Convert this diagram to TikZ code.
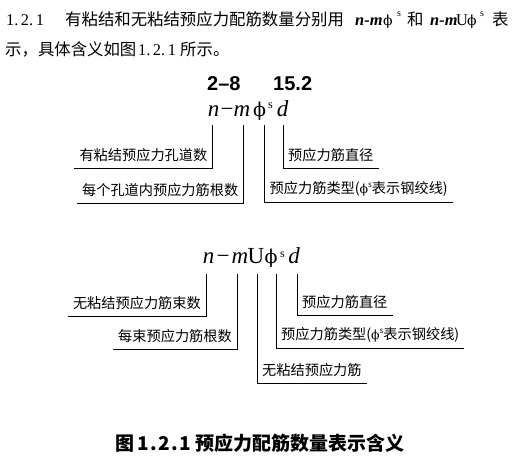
\documentclass[tikz,border=0pt]{standalone}
\usepackage{fontspec}
\setmainfont{Liberation Serif}
\newfontfamily\cjk{Noto Sans CJK SC}
\newfontfamily\lsans{Liberation Sans}
\newfontfamily\phifont{DejaVu Serif}
\newcommand\myphi{{\phifont ϕ}}
\newcommand\labphi{{\phifont\fontsize{12.5}{14}\selectfont ϕ}\raisebox{0.45em}{\fontsize{8}{9}\selectfont s}}
\begin{document}
\begin{tikzpicture}[x=1pt,y=-1pt,
  every node/.style={inner sep=0pt},
  hc/.style={anchor=base west,font=\cjk\fontsize{16.4}{18}\selectfont},
  hs/.style={anchor=base west,font=\fontsize{16.4}{18}\selectfont},
  hsup/.style={anchor=base west,font=\fontsize{10}{11}\selectfont},
  num/.style={anchor=base west,font=\lsans\bfseries\fontsize{20}{22}\selectfont},
  gl/.style={anchor=base,font=\fontsize{23}{26}\selectfont\itshape},
  glu/.style={anchor=base,font=\fontsize{23}{26}\selectfont},
  gphi/.style={anchor=base,font=\phifont\fontsize{19}{22}\selectfont},
  gsup/.style={anchor=base,font=\fontsize{12}{13}\selectfont},
  lbl/.style={font=\cjk\fontsize{14.2}{16}\selectfont,inner xsep=5pt,inner ysep=0pt,minimum height=26pt},
  captext/.style={anchor=base west,font=\cjk\bfseries\fontsize{19}{21}\selectfont},
  leader/.style={line width=0.8pt,black}]
\useasboundingbox[fill=white] (0,0) rectangle (525,461);

% header
\node[hs] (h1) at (6,25.5) {1.\kern2.5pt2.\kern2.5pt1};
\node[hc] (h2) at (65,25.5) {有粘结和无粘结预应力配筋数量分别用};
\node[hs] (h3) at (355,25.5) {\bfseries\itshape n-m};
\node[hs,font=\phifont\fontsize{14}{16}\selectfont] (h4) at (383,25.5) {ϕ};
\node[hsup] (h5) at (397,16) {s};
\node[hc] (h6) at (407,25.5) {和};
\node[hs] (h7) at (430,25.5) {\bfseries\itshape n-m};
\node[hs] (h8) at (456,25.5) {U};
\node[hs,font=\phifont\fontsize{14}{16}\selectfont] (h9) at (467,25.5) {ϕ};
\node[hsup] (h10) at (480,16) {s};
\node[hc] (h11) at (492,25.5) {表};
\node[hc] (k1) at (5,55.5) {示，具体含义如图};
\node[hs] (k2) at (138,55.5) {1.\kern2.5pt2.\kern2.5pt1};
\node[hc] (k3) at (180,55.5) {所示。};

% formula 1
\node[num] (t1) at (207,90) {2–8};
\node[num] (t2) at (273,90) {15.2};
\node[gl] (n1) at (213.5,116.5) {n};
\node[glu] (mi1) at (227,116.5) {−};
\node[gl] (m1) at (242,116.5) {m};
\node[gphi] (p1) at (259.5,116.5) {ϕ};
\node[gsup] (s1) at (270.5,108.5) {s};
\node[gl] (d1) at (282.5,116.5) {d};

\node[lbl,anchor=south east] (L1) at (212.5,168) {有粘结预应力孔道数};
\node[lbl,anchor=south east] (L2) at (243.5,203) {每个孔道内预应力筋根数};
\node[lbl,anchor=south west] (L3) at (264.5,202) {预应力筋类型(\labphi 表示钢绞线)};
\node[lbl,anchor=south west] (L4) at (283,168) {预应力筋直径};

\draw[leader] ([shift={(-1pt,-8.5pt)}]n1.base) |- (L1.south west);
\draw[leader] ([shift={(1.5pt,-8.5pt)}]m1.base) |- (L2.south west);
\draw[leader] ([shift={(5pt,-8.5pt)}]p1.base) |- (L3.south east);
\draw[leader] ([shift={(0.5pt,-8.5pt)}]d1.base) |- (L4.south east);

% formula 2
\node[gl] (n2) at (208.5,263.5) {n};
\node[glu] (mi2) at (223,263.5) {−};
\node[gl] (m2) at (240,263.5) {m};
\node[glu] (u2) at (256,263.5) {U};
\node[gphi] (p2) at (271,263.5) {ϕ};
\node[gsup] (s2) at (282.5,257) {s};
\node[gl] (d2) at (294,263.5) {d};

\node[lbl,anchor=south east] (M1) at (206,316) {无粘结预应力筋束数};
\node[lbl,anchor=south east] (M2) at (237,349) {每束预应力筋根数};
\node[lbl,anchor=south west] (M3) at (257,383) {无粘结预应力筋};
\node[lbl,anchor=south west] (M4) at (276,348) {预应力筋类型(\labphi 表示钢绞线)};
\node[lbl,anchor=south west] (M5) at (297,315) {预应力筋直径};

\draw[leader] ([shift={(-2.5pt,-10pt)}]n2.base) |- (M1.south west);
\draw[leader] ([shift={(-3pt,-10pt)}]m2.base) |- (M2.south west);
\draw[leader] ([shift={(1pt,-10pt)}]u2.base) |- (M3.south east);
\draw[leader] ([shift={(5pt,-10pt)}]p2.base) |- (M4.south east);
\draw[leader] ([shift={(3pt,-10pt)}]d2.base) |- (M5.south east);

% caption
\node[captext] (c1) at (115,450) {图};
\node[captext] (c2) at (137,450) {1\kern1.5pt.\kern1.5pt2\kern1.5pt.\kern1.5pt1};
\node[captext] (c3) at (195,450) {预应力配筋数量表示含义};
\end{tikzpicture}
\end{document}
